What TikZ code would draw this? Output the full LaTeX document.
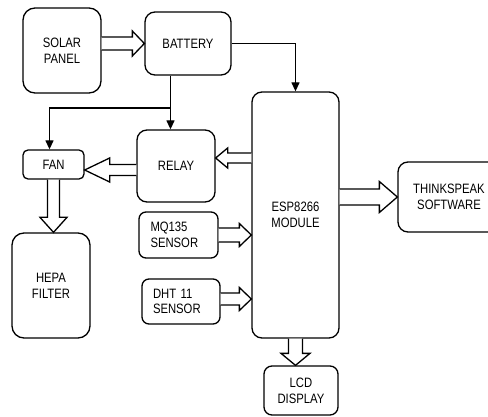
\documentclass[tikz,border=0pt]{standalone}
\usepackage{fontspec}
\setmainfont[FakeStretch=0.83]{Liberation Sans}
\usetikzlibrary{calc,arrows.meta}
\tikzset{
  blk/.style={draw, line width=1.3pt, rounded corners=10pt, align=center, inner sep=0pt,
    font=\fontsize{13.6}{15.7}\selectfont},
  conn/.style={line width=1.3pt, -{Triangle[length=9pt,width=8pt]}},
  hollow/.style={line width=1.3pt, fill=white, line join=miter}
}
% #1 start, #2 tip, #3 shaft half width, #4 head half width, #5 head length (pt)
\newcommand{\hollowarrow}[5]{%
  \coordinate (ha) at (#1);
  \coordinate (hb) at (#2);
  \coordinate (hh) at ($(hb)!#5pt!(ha)$);
  \draw[hollow] ($(ha)!#3pt!90:(hb)$) -- ($(hh)!#3pt!-90:(ha)$) -- ($(hh)!#4pt!-90:(ha)$) -- (hb)
    -- ($(hh)!#4pt!90:(ha)$) -- ($(hh)!#3pt!90:(ha)$) -- ($(ha)!#3pt!-90:(hb)$);
}
\begin{document}
\begin{tikzpicture}[x=1pt,y=-1pt]
\useasboundingbox (0,0) rectangle (488,417);
\node[blk, minimum width=78pt, minimum height=85pt, rounded corners=12pt] (solar) at (62,50.5) {SOLAR\\PANEL};
\node[blk, minimum width=86pt, minimum height=63pt] (battery) at (188,43.5) {BATTERY};
\node[blk, minimum width=78pt, minimum height=72pt] (relay) at (176,166) {RELAY};
\node[blk, minimum width=61pt, minimum height=29pt, rounded corners=5pt] (fan) at (53.5,164.5) {FAN};
\node[blk, minimum width=78pt, minimum height=105pt, rounded corners=12pt] (hepa) at (51,285.5) {HEPA\\FILTER};
\node[blk, minimum width=79pt, minimum height=46pt, rounded corners=7pt, align=left, text width=56pt] (mq) at (178.5,235) {MQ135\\SENSOR};
\node[blk, minimum width=78pt, minimum height=45pt, rounded corners=7pt, align=left, text width=56pt] (dht) at (181,301.5) {DHT 11\\SENSOR};
\node[blk, minimum width=87pt, minimum height=246pt] (esp) at (295.5,215) {ESP8266\\MODULE};
\node[blk, minimum width=102pt, minimum height=70pt] (think) at (449,197) {THINKSPEAK\\SOFTWARE};
\node[blk, minimum width=74pt, minimum height=49pt, rounded corners=8pt] (lcd) at (301,390.5) {LCD\\DISPLAY};

% levels for the block arrows
\coordinate (lvfan) at (0,170);
\coordinate (lvrelay) at (0,158);
\coordinate (lvdht) at (0,299);

% thin connectors
\coordinate (bj) at (170.5,108);
\draw[conn] (battery.east) -| (esp.north);
\draw[conn] (battery.south -| bj) -- (relay.north -| bj);
\draw[conn] (bj) -| ($(fan.north)+(-4,0)$);

% hollow block arrows
\hollowarrow{solar.east |- battery.west}{battery.west}{6.5}{12.5}{12}
\hollowarrow{relay.west |- lvfan}{fan.east |- lvfan}{5.5}{12}{25}
\hollowarrow{esp.west |- lvrelay}{relay.east |- lvrelay}{5}{10}{12}
\hollowarrow{fan.south}{hepa.north -| fan.south}{6}{13.5}{15}
\hollowarrow{mq.east}{esp.west |- mq.east}{7}{11.5}{12}
\hollowarrow{dht.east |- lvdht}{esp.west |- lvdht}{6}{11.5}{12}
\hollowarrow{esp.east |- think.west}{think.west}{8}{15.5}{18}
\hollowarrow{esp.south}{lcd.north -| esp.south}{7}{14.5}{12}
\end{tikzpicture}
\end{document}
